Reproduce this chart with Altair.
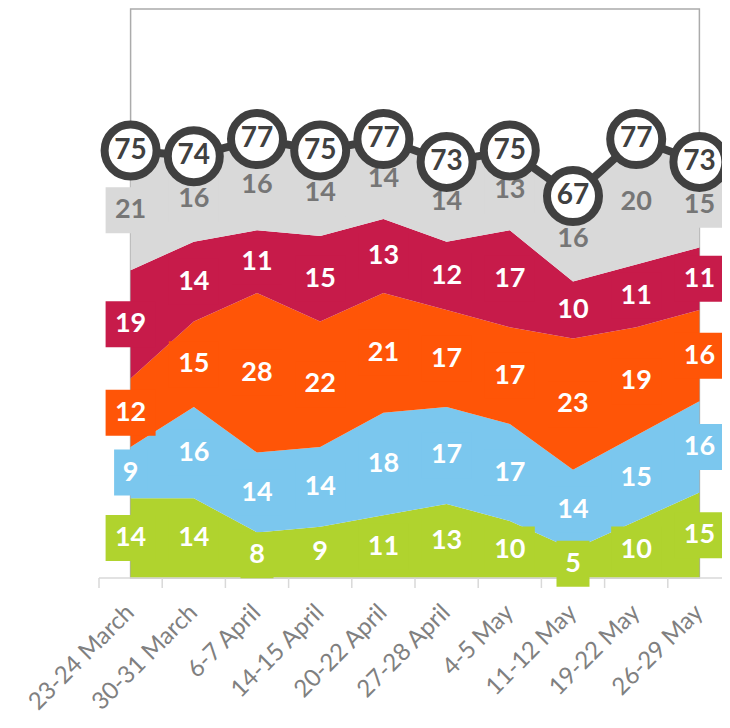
import altair as alt
import pandas as pd

# ---- data ----
dates = ["23-24 March", "30-31 March", "6-7 April", "14-15 April", "20-22 April",
         "27-28 April", "4-5 May", "11-12 May", "19-22 May", "26-29 May"]
green = [14, 14, 8, 9, 11, 13, 10, 5, 10, 15]
blue = [9, 16, 14, 14, 18, 17, 17, 14, 15, 16]
orange = [12, 15, 28, 22, 21, 17, 17, 23, 19, 16]
crimson = [19, 14, 11, 15, 13, 12, 17, 10, 11, 11]
grey = [21, 16, 16, 14, 14, 14, 13, 16, 20, 15]
total = [75, 74, 77, 75, 77, 73, 75, 67, 77, 73]

series_names = ["Series 1", "Series 2", "Series 3", "Series 4", "Series 5"]
series_values = [green, blue, orange, crimson, grey]
series_colors = ["#B0D32E", "#7BC7EE", "#FF5507", "#C71B4A", "#D9D9D9"]

idx = list(range(len(dates)))

rows = []
for k, (name, vals) in enumerate(zip(series_names, series_values)):
    for i in idx:
        lo = sum(series_values[j][i] for j in range(k))
        hi = lo + vals[i] if k < len(series_values) - 1 else total[i]
        rows.append({
            "i": i, "series": name, "value": vals[i],
            "lo": lo, "hi": hi, "mid": (lo + hi) / 2,
            "ndig": str(len(str(vals[i]))),
            "isgrey": 1 if k == len(series_values) - 1 else 0,
        })
df = pd.DataFrame(rows)
df_tot = pd.DataFrame({"i": idx, "total": total})
df_frame = pd.DataFrame({"x0": [idx[0]], "x1": [idx[-1]]})
bounds = [i - 0.5 for i in idx] + [idx[-1] + 0.5]
df_ticks = pd.DataFrame({"b": bounds})
df_domain = pd.DataFrame({"b0": [bounds[0]], "b1": [bounds[-1]]})
df_axis = pd.DataFrame({"i": idx, "label": dates})

W, H = 623, 570
band = 63.2
xmax = -0.5 + W / band

xscale = alt.Scale(domain=[-0.5, xmax], nice=False, zero=False)
yscale = alt.Scale(domain=[0, 100], nice=False, zero=True)
cscale = alt.Scale(domain=series_names, range=series_colors)

FONT = "Lato"
AXIS_GREY = "#D9D9D9"

frame = alt.Chart(df_frame).mark_rect(filled=False, stroke="#ABABAB", strokeWidth=1.5).encode(
    x=alt.X("x0:Q", scale=xscale, axis=None),
    x2="x1:Q",
    y=alt.value(1),
    y2=alt.value(H),
)

area_layers = []
for name, col in zip(series_names, series_colors):
    area_layers.append(
        alt.Chart(df[df["series"] == name]).mark_area(color=col, opacity=1, interpolate="linear").encode(
            x=alt.X("i:Q", scale=xscale, axis=None),
            y=alt.Y("lo:Q", scale=yscale, axis=None),
            y2="hi:Q",
        )
    )

domain_line = alt.Chart(df_domain).mark_rule(color=AXIS_GREY, strokeWidth=1.5).encode(
    x=alt.X("b0:Q", scale=xscale, axis=None),
    x2="b1:Q",
    y=alt.value(H),
)

ticks = alt.Chart(df_ticks).mark_rule(color=AXIS_GREY, strokeWidth=1.5).encode(
    x=alt.X("b:Q", scale=xscale, axis=None),
    y=alt.value(H),
    y2=alt.value(H + 10),
)

axis_labels = alt.Chart(df_axis).mark_text(
    font=FONT, fontSize=24, color="#808080", angle=315, align="right", baseline="middle",
).encode(
    x=alt.X("i:Q", scale=xscale, axis=None),
    y=alt.value(H + 31),
    text="label:N",
)

box2 = "M-1,-0.92H1V0.92H-1Z"
box1 = "M-0.66,-0.92H0.66V0.92H-0.66Z"
boxes = alt.Chart(df).mark_point(filled=True, opacity=1, size=2500, strokeWidth=0).encode(
    x=alt.X("i:Q", scale=xscale, axis=None),
    y=alt.Y("mid:Q", scale=yscale, axis=None),
    color=alt.Color("series:N", scale=cscale, legend=None),
    shape=alt.Shape("ndig:N", scale=alt.Scale(domain=["1", "2"], range=[box1, box2]), legend=None),
)

txt_white = alt.Chart(df[df["isgrey"] == 0]).mark_text(
    font=FONT, fontSize=27, fontWeight="bold", color="white", align="center", baseline="middle"
).encode(
    x=alt.X("i:Q", scale=xscale, axis=None),
    y=alt.Y("mid:Q", scale=yscale, axis=None),
    text="value:Q",
)

txt_grey = alt.Chart(df[df["isgrey"] == 1]).mark_text(
    font=FONT, fontSize=27, fontWeight="bold", color="#767676", align="center", baseline="middle"
).encode(
    x=alt.X("i:Q", scale=xscale, axis=None),
    y=alt.Y("mid:Q", scale=yscale, axis=None),
    text="value:Q",
)

tot_line = alt.Chart(df_tot).mark_line(color="#404040", strokeWidth=8).encode(
    x=alt.X("i:Q", scale=xscale, axis=None),
    y=alt.Y("total:Q", scale=yscale, axis=None),
)

tot_pts = alt.Chart(df_tot).mark_point(shape="circle", size=2704, fill="white", stroke="#404040",
                                        strokeWidth=8, opacity=1, fillOpacity=1).encode(
    x=alt.X("i:Q", scale=xscale, axis=None),
    y=alt.Y("total:Q", scale=yscale, axis=None),
)

tot_txt = alt.Chart(df_tot).mark_text(font=FONT, fontSize=28, fontWeight="bold", color="#404040",
                                      align="center", baseline="middle").encode(
    x=alt.X("i:Q", scale=xscale, axis=None),
    y=alt.Y("total:Q", scale=yscale, axis=None),
    text="total:Q",
)

chart = alt.layer(frame, *area_layers, domain_line, ticks, axis_labels, boxes, txt_white, txt_grey,
                  tot_line, tot_pts, tot_txt).properties(
    width=W, height=H,
    autosize=alt.AutoSizeParams(type="none"),
    padding={"left": 91, "top": 0, "right": 0, "bottom": 142},
).configure_view(strokeWidth=0)

chart.save("out.html", embed_options={"renderer": "svg", "actions": False})
